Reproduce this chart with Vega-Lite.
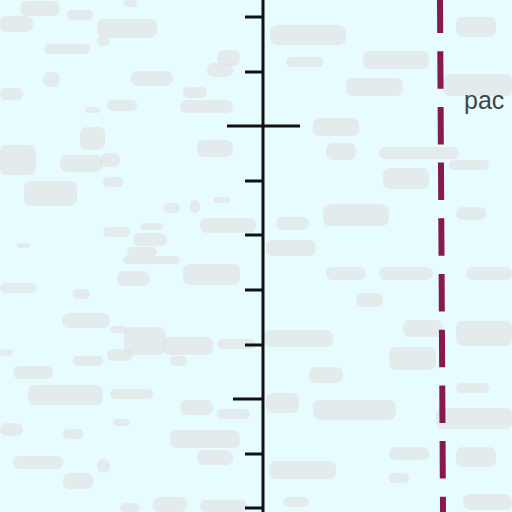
{
  "$schema": "https://vega.github.io/schema/vega-lite/v6.json",
  "width": 512,
  "height": 512,
  "autosize": "none",
  "padding": 0,
  "background": "#e6fcff",
  "config": {"view": {"stroke": null}},
  "datasets": {
    "texture": [
      {"x": 20, "x2": 60, "y": 1, "y2": 16},
      {"x": 67, "x2": 93, "y": 10, "y2": 20},
      {"x": 0, "x2": 33, "y": 16, "y2": 32},
      {"x": 97, "x2": 157, "y": 19, "y2": 38},
      {"x": 123, "x2": 137, "y": 0, "y2": 7},
      {"x": 44, "x2": 90, "y": 44, "y2": 54},
      {"x": 97, "x2": 110, "y": 37, "y2": 46},
      {"x": 217, "x2": 240, "y": 50, "y2": 66},
      {"x": 207, "x2": 233, "y": 63, "y2": 77},
      {"x": 131, "x2": 173, "y": 71, "y2": 86},
      {"x": 43, "x2": 60, "y": 72, "y2": 87},
      {"x": 0, "x2": 23, "y": 88, "y2": 100},
      {"x": 183, "x2": 207, "y": 87, "y2": 98},
      {"x": 107, "x2": 137, "y": 100, "y2": 111},
      {"x": 180, "x2": 233, "y": 100, "y2": 113},
      {"x": 85, "x2": 100, "y": 107, "y2": 113},
      {"x": 80, "x2": 105, "y": 127, "y2": 150},
      {"x": 0, "x2": 36, "y": 145, "y2": 175},
      {"x": 60, "x2": 103, "y": 155, "y2": 172},
      {"x": 100, "x2": 120, "y": 153, "y2": 167},
      {"x": 197, "x2": 233, "y": 140, "y2": 157},
      {"x": 24, "x2": 77, "y": 181, "y2": 206},
      {"x": 103, "x2": 123, "y": 177, "y2": 187},
      {"x": 163, "x2": 180, "y": 203, "y2": 213},
      {"x": 190, "x2": 200, "y": 200, "y2": 213},
      {"x": 213, "x2": 230, "y": 197, "y2": 203},
      {"x": 200, "x2": 256, "y": 218, "y2": 233},
      {"x": 103, "x2": 130, "y": 227, "y2": 237},
      {"x": 133, "x2": 167, "y": 233, "y2": 246},
      {"x": 140, "x2": 163, "y": 223, "y2": 230},
      {"x": 17, "x2": 30, "y": 243, "y2": 248},
      {"x": 127, "x2": 157, "y": 247, "y2": 256},
      {"x": 123, "x2": 180, "y": 256, "y2": 264},
      {"x": 183, "x2": 240, "y": 264, "y2": 285},
      {"x": 117, "x2": 150, "y": 271, "y2": 286},
      {"x": 0, "x2": 37, "y": 283, "y2": 293},
      {"x": 73, "x2": 90, "y": 289, "y2": 299},
      {"x": 62, "x2": 110, "y": 313, "y2": 328},
      {"x": 110, "x2": 127, "y": 326, "y2": 333},
      {"x": 124, "x2": 166, "y": 327, "y2": 355},
      {"x": 163, "x2": 213, "y": 337, "y2": 355},
      {"x": 107, "x2": 133, "y": 349, "y2": 361},
      {"x": 217, "x2": 256, "y": 339, "y2": 349},
      {"x": 73, "x2": 103, "y": 356, "y2": 366},
      {"x": 13, "x2": 53, "y": 366, "y2": 379},
      {"x": 170, "x2": 187, "y": 356, "y2": 366},
      {"x": 0, "x2": 13, "y": 349, "y2": 356},
      {"x": 28, "x2": 103, "y": 385, "y2": 405},
      {"x": 110, "x2": 153, "y": 389, "y2": 399},
      {"x": 180, "x2": 213, "y": 400, "y2": 415},
      {"x": 217, "x2": 250, "y": 409, "y2": 419},
      {"x": 0, "x2": 23, "y": 423, "y2": 436},
      {"x": 63, "x2": 83, "y": 429, "y2": 439},
      {"x": 113, "x2": 130, "y": 419, "y2": 426},
      {"x": 170, "x2": 240, "y": 430, "y2": 448},
      {"x": 13, "x2": 63, "y": 456, "y2": 469},
      {"x": 97, "x2": 110, "y": 459, "y2": 473},
      {"x": 197, "x2": 233, "y": 450, "y2": 465},
      {"x": 63, "x2": 93, "y": 473, "y2": 489},
      {"x": 153, "x2": 187, "y": 497, "y2": 512},
      {"x": 120, "x2": 140, "y": 503, "y2": 512},
      {"x": 200, "x2": 247, "y": 500, "y2": 512},
      {"x": 270, "x2": 346, "y": 25, "y2": 45},
      {"x": 286, "x2": 323, "y": 57, "y2": 67},
      {"x": 363, "x2": 429, "y": 51, "y2": 69},
      {"x": 346, "x2": 403, "y": 78, "y2": 96},
      {"x": 443, "x2": 512, "y": 74, "y2": 96},
      {"x": 456, "x2": 496, "y": 17, "y2": 37},
      {"x": 313, "x2": 359, "y": 118, "y2": 136},
      {"x": 326, "x2": 356, "y": 143, "y2": 160},
      {"x": 379, "x2": 459, "y": 147, "y2": 159},
      {"x": 383, "x2": 429, "y": 168, "y2": 189},
      {"x": 449, "x2": 489, "y": 160, "y2": 170},
      {"x": 456, "x2": 486, "y": 207, "y2": 220},
      {"x": 323, "x2": 389, "y": 204, "y2": 226},
      {"x": 276, "x2": 309, "y": 217, "y2": 230},
      {"x": 266, "x2": 316, "y": 240, "y2": 256},
      {"x": 326, "x2": 366, "y": 267, "y2": 280},
      {"x": 379, "x2": 433, "y": 267, "y2": 280},
      {"x": 356, "x2": 383, "y": 293, "y2": 307},
      {"x": 466, "x2": 512, "y": 267, "y2": 280},
      {"x": 403, "x2": 443, "y": 320, "y2": 337},
      {"x": 456, "x2": 512, "y": 321, "y2": 346},
      {"x": 389, "x2": 436, "y": 347, "y2": 370},
      {"x": 264, "x2": 333, "y": 330, "y2": 347},
      {"x": 309, "x2": 343, "y": 367, "y2": 383},
      {"x": 313, "x2": 396, "y": 400, "y2": 420},
      {"x": 266, "x2": 299, "y": 393, "y2": 413},
      {"x": 436, "x2": 512, "y": 408, "y2": 429},
      {"x": 456, "x2": 489, "y": 383, "y2": 393},
      {"x": 389, "x2": 429, "y": 447, "y2": 460},
      {"x": 269, "x2": 336, "y": 461, "y2": 479},
      {"x": 456, "x2": 496, "y": 447, "y2": 467},
      {"x": 283, "x2": 309, "y": 497, "y2": 507},
      {"x": 389, "x2": 409, "y": 473, "y2": 483},
      {"x": 463, "x2": 512, "y": 494, "y2": 510}
    ],
    "axis": [{"x": 263, "x2": 263, "y": 0, "y2": 512}],
    "ticks": [
      {"y": 17, "x": 245, "x2": 263},
      {"y": 72, "x": 245, "x2": 263},
      {"y": 126, "x": 227, "x2": 300},
      {"y": 181, "x": 245, "x2": 263},
      {"y": 235, "x": 245, "x2": 263},
      {"y": 290, "x": 245, "x2": 263},
      {"y": 345, "x": 245, "x2": 263},
      {"y": 399, "x": 233, "x2": 263},
      {"y": 454, "x": 245, "x2": 263},
      {"y": 508, "x": 245, "x2": 263}
    ],
    "marker": [{"x": 440, "x2": 443, "y": 0, "y2": 512}],
    "labels": [{"x": 464, "y": 109, "label": "pac"}]
  },
  "layer": [
    {
      "data": {"name": "texture"},
      "mark": {"type": "rect", "color": "#e2e2e2", "opacity": 0.65, "cornerRadius": 7},
      "encoding": {
        "x": {"field": "x", "type": "quantitative", "scale": {"domain": [0, 512], "nice": false, "zero": false}, "axis": null},
        "x2": {"field": "x2"},
        "y": {"field": "y", "type": "quantitative", "scale": {"domain": [0, 512], "nice": false, "zero": false, "reverse": true}, "axis": null},
        "y2": {"field": "y2"}
      }
    },
    {
      "data": {"name": "axis"},
      "mark": {"type": "rule", "color": "#111111", "strokeWidth": 3},
      "encoding": {
        "x": {"field": "x", "type": "quantitative"},
        "x2": {"field": "x2"},
        "y": {"field": "y", "type": "quantitative"},
        "y2": {"field": "y2"}
      }
    },
    {
      "data": {"name": "ticks"},
      "mark": {"type": "rule", "color": "#111111", "strokeWidth": 3},
      "encoding": {
        "x": {"field": "x", "type": "quantitative"},
        "x2": {"field": "x2"},
        "y": {"field": "y", "type": "quantitative"}
      }
    },
    {
      "data": {"name": "marker"},
      "mark": {"type": "rule", "color": "#861a4e", "strokeWidth": 6, "strokeDash": [37.5, 18.2], "strokeDashOffset": 4.5, "strokeCap": "butt"},
      "encoding": {
        "x": {"field": "x", "type": "quantitative"},
        "x2": {"field": "x2"},
        "y": {"field": "y", "type": "quantitative"},
        "y2": {"field": "y2"}
      }
    },
    {
      "data": {"name": "labels"},
      "mark": {"type": "text", "align": "left", "baseline": "alphabetic", "font": "Liberation Sans", "fontSize": 25, "color": "#444444"},
      "encoding": {
        "x": {"field": "x", "type": "quantitative"},
        "y": {"field": "y", "type": "quantitative"},
        "text": {"field": "label"}
      }
    }
  ]
}
